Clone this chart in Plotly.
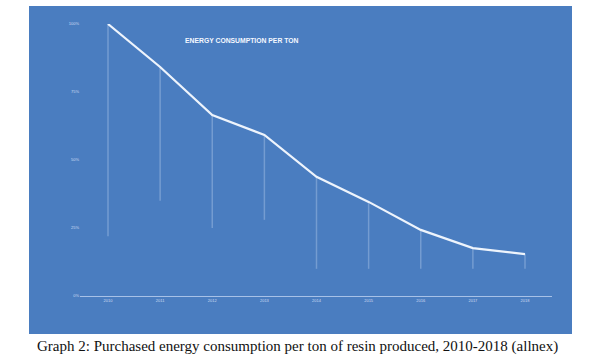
import plotly.graph_objects as go

years = [2010, 2011, 2012, 2013, 2014, 2015, 2016, 2017, 2018]
energy = [100, 84.2, 66.5, 59.2, 43.8, 34.6, 24.3, 17.6, 15.4]
drop_end = [22, 35, 25, 28, 10, 10, 10, 10, 10]
y_ticks = [0, 25, 50, 75, 100]
y_tick_labels = ["0%", "25%", "50%", "75%", "100%"]
title_text = "ENERGY CONSUMPTION PER TON"
caption = "Graph 2: Purchased energy consumption per ton of resin produced, 2010-2018 (allnex)"

fig = go.Figure()

# faint drop lines from each point
for yr, v, e in zip(years, energy, drop_end):
    fig.add_trace(go.Scatter(x=[yr, yr], y=[v, e], mode="lines",
                             line=dict(color="rgba(215,230,250,0.3)", width=1.5),
                             hoverinfo="skip", showlegend=False))

fig.add_trace(go.Scatter(x=years, y=energy, mode="lines",
                         line=dict(color="#eef4fc", width=2.2),
                         showlegend=False, cliponaxis=False))

L, R, T, B = 80, 42, 24, 60
W, H = 594, 356
pw = W - L - R
ph = H - T - B

def px(x):
    return (x - L) / pw

def py(y):
    return (H - B - y) / ph

fig.add_shape(type="rect", xref="paper", yref="paper",
              x0=px(29), x1=px(572), y0=py(334), y1=py(6),
              fillcolor="#4A7DC0", line=dict(width=0), layer="below")

fig.add_annotation(text="<b>" + title_text + "</b>", xref="paper", yref="paper",
                   x=px(242), y=py(40), showarrow=False,
                   font=dict(family="Liberation Sans", size=6.8, color="#f4f8ff"),
                   xanchor="center", yanchor="middle")

fig.add_annotation(text=caption, xref="paper", yref="paper",
                   x=px(297), y=py(346), showarrow=False,
                   font=dict(family="Liberation Serif", size=15, color="#111111"),
                   xanchor="center", yanchor="middle")

fig.update_layout(
    width=W, height=H,
    margin=dict(l=L, r=R, t=T, b=B),
    paper_bgcolor="white",
    plot_bgcolor="rgba(0,0,0,0)",
    xaxis=dict(range=[2010 - 28 / 52.125, 2018 + 27 / 52.125],
               tickvals=years, ticktext=[str(y) for y in years],
               showgrid=False, zeroline=False,
               showline=True, linecolor="rgba(190,210,240,0.8)", linewidth=1,
               tickfont=dict(family="Liberation Sans", size=4, color="#cfdcf2"),
               ticks=""),
    yaxis=dict(range=[0, 100], tickvals=y_ticks, ticktext=y_tick_labels,
               showgrid=False, zeroline=False, showline=False,
               tickfont=dict(family="Liberation Sans", size=4, color="#cfdcf2"),
               ticks=""),
)

fig.write_html("out.html", config={"displayModeBar": False},
               post_script="document.body.style.margin='0';document.body.style.overflow='hidden';")
